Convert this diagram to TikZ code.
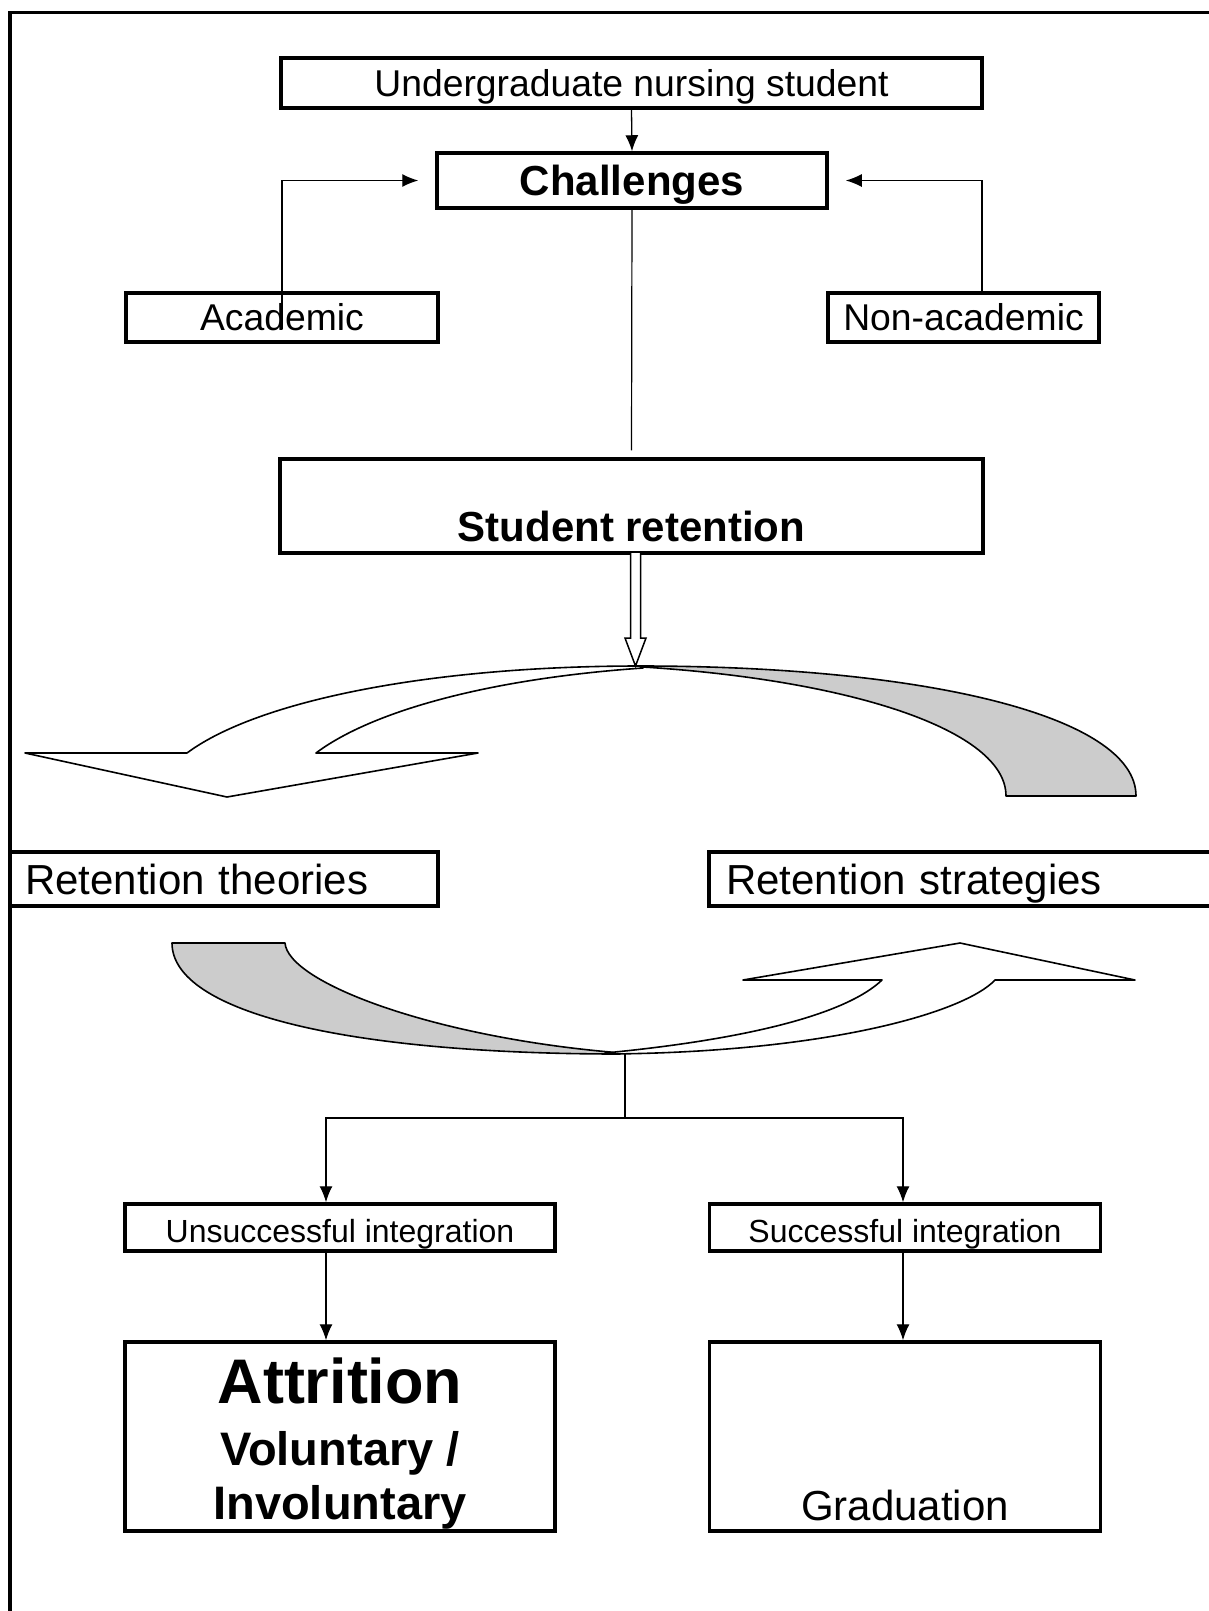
\documentclass[tikz,border=0pt]{standalone}
\usepackage{fontspec}
\setmainfont{Liberation Sans}
\usetikzlibrary{arrows.meta}

\begin{document}
\begin{tikzpicture}[x=1pt, y=-1pt,
    box/.style={draw, line width=3.5pt, inner sep=0pt},
    lab/.style={inner sep=0pt, anchor=base},
    fA/.style={font=\fontsize{37.3}{42}\selectfont, text height=26.7pt, text depth=0pt},
    fB/.style={font=\fontsize{42}{48}\selectfont, text height=30pt, text depth=0pt},
    fBb/.style={font=\fontsize{42}{48}\selectfont\bfseries, text height=30pt, text depth=0pt},
    fC/.style={font=\fontsize{32}{36}\selectfont, text height=30pt, text depth=0pt},
    link/.style={line width=1.3pt, -{Latex[length=16pt,width=13pt]}},
    band/.style={draw, line width=1.6pt, line join=round}]
  \useasboundingbox (0,0) rectangle (1208,1611);
  % Marco
  \draw[line width=3.5pt] (10,1650) -- (10,12.5) -- (1250,12.5);

  % Nodos
  \node[box, fA, minimum width=701pt, minimum height=50pt] (student) at (631.5,83) {Undergraduate nursing student};
  \node[box, fBb, minimum width=390pt, minimum height=55pt] (chal) at (632,180.5) {Challenges};
  \node[box, fA, minimum width=312pt, minimum height=49pt] (acad) at (282,317.5) {Academic};
  \node[box, fA, minimum width=271pt, minimum height=49pt] (nonacad) at (963.5,317.5) {Non-academic};
  \node[box, minimum width=703pt, minimum height=94pt] (ret) at (631.5,506) {};
  \node[lab, font=\fontsize{42}{48}\selectfont\bfseries] (retlab) at (631.5,541) {Student retention};
  \node[box, fB, minimum width=428pt, minimum height=54pt, text width=398pt, align=left] (theo) at (224,879) {Retention theories};
  \node[box, fB, minimum width=521pt, minimum height=54pt, text width=487pt, align=left] (strat) at (969.5,879) {Retention strategies};
  \node[box, fC, minimum width=430pt, minimum height=47pt] (unsucc) at (340,1227.5) {Unsuccessful integration};
  \node[box, fC, minimum width=391pt, minimum height=47pt] (succ) at (905,1227.5) {Successful integration};
  \node[box, minimum width=430pt, minimum height=189pt] (attr) at (340,1436.5) {};
  \node[lab, font=\fontsize{63}{70}\selectfont\bfseries] (attrlab) at (340,1403) {Attrition};
  \node[lab, font=\fontsize{47}{54}\selectfont\bfseries] (vol) at (340,1465) {Voluntary /};
  \node[lab, font=\fontsize{47}{54}\selectfont\bfseries] (invol) at (340,1519) {Involuntary};
  \node[box, minimum width=391pt, minimum height=189pt] (grad) at (905,1436.5) {};
  \node[lab, font=\fontsize{42}{48}\selectfont] (gradlab) at (905,1520) {Graduation};
  \coordinate (split) at (625,1054);
  \coordinate (fork) at (625,1118);

  % Flechas curvas
  \draw[band, fill=gray!40] (640,666) .. controls (925,666) and (1136,716) .. (1136,796) -- (1006,796) .. controls (1006,730) and (850,680) .. (643,667) -- cycle;
  \draw[band, fill=white] (25,753) -- (187,753) .. controls (257,701) and (429,666) .. (640,666) -- (643,668) .. controls (484.5,679) and (370,712.4) .. (316,753) -- (478,753) -- (227,797) -- cycle;
  \draw[band, fill=gray!40] (172,943) -- (285,943) .. controls (288,982) and (430,1036) .. (610,1052) -- (620,1054) .. controls (345,1054) and (172,1012) .. (172,943) -- cycle;
  \draw[band, fill=white] (605,1053) .. controls (720,1042) and (840,1020) .. (882,980) -- (743,980) -- (960,943) -- (1135,980) -- (995,980) .. controls (965,1012) and (830,1052) .. (610,1054) -- cycle;
  \draw[line width=1.5pt, fill=white, line join=miter] (630.5,553) -- (630.5,638) -- (625,638) -- (635.5,666) -- (646,638) -- (640.5,638) -- (640.5,553);

  % Aristas
  \draw[link] (student.south) -- (chal.north);
  \draw[link] ([yshift=-11pt]acad.center) |- ([xshift=-17pt]chal.west);
  \draw[link] ([xshift=18.5pt]nonacad.north) |- ([xshift=17pt]chal.east);
  \draw[line width=1.2pt] (chal.south) -- ([yshift=7pt]ret.north);
  \draw[line width=1.3pt] (split) -- (fork);
  \draw[link] (fork) -| ([xshift=-14pt]unsucc.north);
  \draw[link] (fork) -| ([xshift=-2pt]succ.north);
  \draw[link] ([xshift=-14pt]unsucc.south) -- ([xshift=-14pt]attr.north);
  \draw[link] ([xshift=-2pt]succ.south) -- ([xshift=-2pt]grad.north);
\end{tikzpicture}
\end{document}
